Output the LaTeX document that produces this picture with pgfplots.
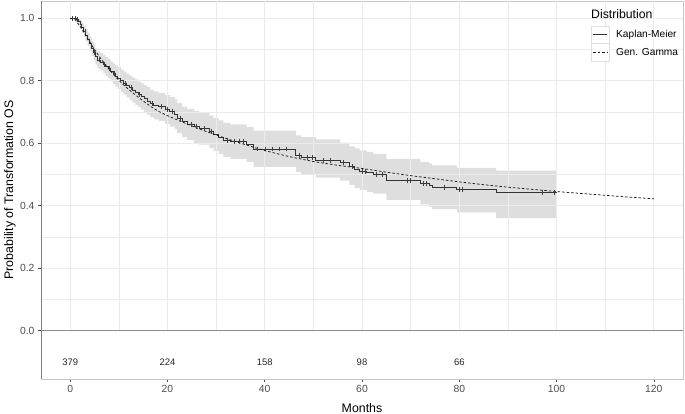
\documentclass[border=0pt]{standalone}
\usepackage{pgfplots}
\usepackage{pgfplotstable}
\pgfplotsset{compat=1.18}
\usepgfplotslibrary{fillbetween}
\usepackage{fontspec}
\setmainfont{Liberation Sans}

\definecolor{tickgrey}{HTML}{4D4D4D}
\definecolor{gridgrey}{HTML}{EBEBEB}
\definecolor{bandgrey}{HTML}{DEDEDE}

% Kaplan-Meier estimate with its confidence band
\pgfplotstableread{
t S U L
0 1.000 1.000 1.000
1.2 0.995 1.000 0.987
1.6 0.989 0.999 0.978
2.0 0.979 0.993 0.965
2.4 0.970 0.985 0.954
2.8 0.958 0.975 0.940
3.2 0.946 0.965 0.926
3.6 0.933 0.954 0.911
4.0 0.918 0.941 0.895
4.4 0.903 0.927 0.879
4.8 0.890 0.915 0.865
5.2 0.877 0.903 0.851
5.6 0.866 0.893 0.839
6.2 0.860 0.888 0.832
6.8 0.853 0.882 0.824
7.3 0.845 0.875 0.815
7.8 0.838 0.869 0.807
8.3 0.830 0.862 0.798
8.8 0.822 0.855 0.789
9.3 0.815 0.849 0.781
9.8 0.808 0.843 0.773
10.4 0.800 0.836 0.764
11.0 0.792 0.829 0.755
11.6 0.784 0.822 0.746
12.2 0.777 0.816 0.738
12.8 0.770 0.810 0.730
13.4 0.763 0.804 0.722
14.0 0.756 0.797 0.715
14.6 0.749 0.791 0.707
15.2 0.742 0.785 0.699
15.8 0.735 0.779 0.691
16.4 0.727 0.771 0.683
17.2 0.721 0.766 0.676
18.2 0.716 0.761 0.671
19.5 0.708 0.754 0.662
20.5 0.700 0.747 0.653
21.5 0.693 0.740 0.646
22.0 0.680 0.728 0.632
23.0 0.668 0.717 0.619
24.0 0.660 0.710 0.610
25.5 0.652 0.703 0.601
26.5 0.646 0.697 0.595
28.6 0.636 0.688 0.584
29.5 0.627 0.680 0.575
30.5 0.618 0.673 0.565
31.5 0.609 0.665 0.556
33.0 0.604 0.660 0.550
36.3 0.595 0.652 0.540
37.7 0.581 0.640 0.524
46.4 0.560 0.625 0.507
47.5 0.553 0.619 0.499
50.5 0.545 0.612 0.490
55.5 0.538 0.602 0.480
57.4 0.524 0.590 0.466
58.5 0.516 0.583 0.457
59.5 0.510 0.577 0.450
61.0 0.505 0.572 0.444
62.3 0.499 0.566 0.438
65.0 0.480 0.550 0.418
72.0 0.471 0.540 0.404
73.8 0.466 0.535 0.397
74.4 0.459 0.529 0.389
79.5 0.451 0.521 0.378
87.6 0.443 0.512 0.360
100.0 0.443 0.512 0.360
}\kmtable

% censored observations
\pgfplotstableread{
t S
0.5 1.000
1.0 1.000
1.4 0.995
3.0 0.958
5.0 0.890
6.0 0.866
7.0 0.853
8.0 0.838
9.0 0.822
11.3 0.792
12.5 0.777
14.3 0.756
16.8 0.727
18.8 0.716
20.0 0.708
21.0 0.700
22.6 0.680
24.8 0.660
26.0 0.652
27.5 0.646
29.0 0.636
32.2 0.609
33.8 0.604
34.8 0.604
35.6 0.604
38.5 0.581
40.2 0.581
41.5 0.581
43.0 0.581
44.5 0.581
47.0 0.560
48.8 0.553
49.8 0.553
52.0 0.545
53.5 0.545
56.2 0.538
58.0 0.524
60.0 0.510
60.6 0.510
63.0 0.499
64.2 0.499
69.3 0.480
70.0 0.480
72.6 0.471
73.2 0.471
77.0 0.459
80.0 0.451
80.6 0.451
97.0 0.443
99.5 0.443
}\censtable

% generalised gamma fit
\pgfplotstableread{
t S
0 1.000
1 0.995
2 0.975
3 0.950
4 0.925
5 0.900
6 0.877
7 0.856
8 0.836
9 0.818
10 0.801
12 0.772
14 0.747
16.5 0.718
18 0.703
20 0.688
22.5 0.671
25 0.655
27.5 0.640
30 0.626
35 0.600
40 0.576
45 0.557
50 0.541
55 0.529
60 0.519
65 0.507
70 0.496
75 0.486
80 0.476
85 0.467
90 0.459
95 0.452
100 0.445
105 0.439
110 0.433
115 0.427
120 0.422
}\ggtable

\begin{document}
\begin{tikzpicture}
\begin{axis}[
  name=ax,
  scale only axis, width=642bp, height=378bp,
  xmin=-6, xmax=126, ymin=-0.155, ymax=1.055,
  axis line style={gray!45, line width=0.5bp},
  xtick={0,20,40,60,80,100,120},
  ytick={0,0.2,0.4,0.6,0.8,1.0},
  tick align=outside, major tick length=3bp,
  xtick pos=bottom, ytick pos=left,
  tick style={tickgrey, line width=0.5bp},
  y tick label style={/pgf/number format/.cd, fixed, fixed zerofill, precision=1, /tikz/.cd},
  tick label style={font=\fontsize{10.4}{12}\selectfont, text=tickgrey},
  /pgf/number format/assume math mode=true,
  xlabel={Months},
  ylabel={Probability of Transformation OS},
  label style={font=\fontsize{12.4}{14}\selectfont},
  xlabel style={at={(rel axis cs:0.5,-0.0767)}, anchor=center},
  ylabel style={at={(rel axis cs:-0.0483,0.5)}, anchor=center},
]
% grid, only over the probability part
\pgfplotsinvokeforeach{10,30,50,70,90,110}{
  \draw[gridgrey, line width=0.5bp] (axis cs:#1,0) -- (axis cs:#1,1.055);}
\pgfplotsinvokeforeach{0,20,40,60,80,100,120}{
  \draw[gridgrey, line width=0.8bp] (axis cs:#1,0) -- (axis cs:#1,1.055);}
\pgfplotsinvokeforeach{0.1,0.3,0.5,0.7,0.9}{
  \draw[gridgrey, line width=0.5bp] (axis cs:-6,#1) -- (axis cs:126,#1);}
\pgfplotsinvokeforeach{0.2,0.4,0.6,0.8,1.0}{
  \draw[gridgrey, line width=0.8bp] (axis cs:-6,#1) -- (axis cs:126,#1);}
\draw[gray!90, line width=0.8bp] (axis cs:-6,0) -- (axis cs:126,0);

\addplot[name path=U, const plot, draw=none, forget plot] table[x=t, y=U] {\kmtable};
\addplot[name path=L, const plot, draw=none, forget plot] table[x=t, y=L] {\kmtable};
\addplot[bandgrey, forget plot] fill between[of=U and L];

\addplot[const plot, black!80, line width=0.8bp] table[x=t, y=S] {\kmtable};
\addplot[only marks, mark=|, mark size=2.4bp, black!75, mark options={line width=0.5bp}] table[x=t, y=S] {\censtable};
\addplot[black!90, line width=0.75bp, dash pattern=on 2.5bp off 2bp] table[x=t, y=S] {\ggtable};

% numbers at risk
\node[font=\fontsize{9.5}{11}\selectfont, text=black!85] at (axis cs:0,-0.10) {379};
\node[font=\fontsize{9.5}{11}\selectfont, text=black!85] at (axis cs:20,-0.10) {224};
\node[font=\fontsize{9.5}{11}\selectfont, text=black!85] at (axis cs:40,-0.10) {158};
\node[font=\fontsize{9.5}{11}\selectfont, text=black!85] at (axis cs:60,-0.10) {98};
\node[font=\fontsize{9.5}{11}\selectfont, text=black!85] at (axis cs:80,-0.10) {66};

% darker left and bottom axis lines
\draw[gray, line width=0.8bp] (rel axis cs:0,1) -- (rel axis cs:0,0) -- (rel axis cs:1,0);

% legend
\node[anchor=west, font=\fontsize{12.3}{14}\selectfont, inner sep=0pt] at (rel axis cs:0.8567,0.966) {Distribution};
\draw[gray!25, fill=white, line width=0.5bp] (rel axis cs:0.8567,0.9339) rectangle (rel axis cs:0.8847,0.8889);
\draw[gray!25, fill=white, line width=0.5bp] (rel axis cs:0.8567,0.8889) rectangle (rel axis cs:0.8847,0.8413);
\draw[black!80, line width=0.8bp] (rel axis cs:0.8603,0.9114) -- (rel axis cs:0.8821,0.9114);
\draw[black!90, line width=0.75bp, dash pattern=on 2.5bp off 2bp] (rel axis cs:0.8603,0.8651) -- (rel axis cs:0.8821,0.8651);
\node[anchor=west, font=\fontsize{10.2}{12}\selectfont, inner sep=0pt] at (rel axis cs:0.8956,0.9114) {Kaplan-Meier};
\node[anchor=west, font=\fontsize{10.2}{12}\selectfont, inner sep=0pt] at (rel axis cs:0.8956,0.8651) {Gen. Gamma};
\end{axis}
\pgfresetboundingbox
\path[use as bounding box] ([shift={(-41bp,-35bp)}]ax.south west) rectangle ([shift={(2bp,1bp)}]ax.north east);
\end{tikzpicture}
\end{document}
